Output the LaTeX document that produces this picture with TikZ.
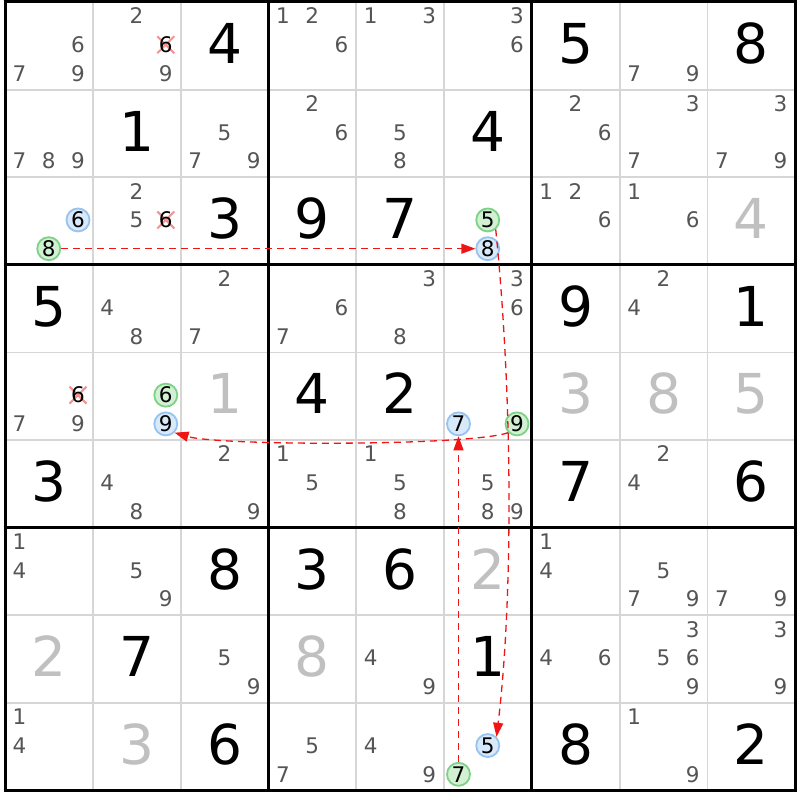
\documentclass[tikz,border=0pt]{standalone}
\usepackage{fontspec}
\setmainfont{DejaVu Sans}
\usetikzlibrary{arrows.meta}
\definecolor{candgray}{RGB}{85,85,85}
\definecolor{solvedgray}{RGB}{192,192,192}
\definecolor{thingrid}{RGB}{214,214,214}
\definecolor{gfill}{RGB}{210,240,210}
\definecolor{gdraw}{RGB}{125,210,135}
\definecolor{bfill}{RGB}{216,233,250}
\definecolor{bdraw}{RGB}{150,195,240}
\definecolor{xpink}{RGB}{245,145,145}
\definecolor{linkred}{RGB}{240,20,20}
\tikzset{
  candnode/.style={inner sep=0pt, font=\fontsize{21.5}{21.5}\selectfont, text=candgray, text height=15.6pt, text depth=0pt},
  hlg/.style={circle, fill=gfill, draw=gdraw, line width=1.8pt, minimum size=23pt, text=black},
  hlb/.style={circle, fill=bfill, draw=bdraw, line width=1.8pt, minimum size=23pt, text=black},
  elimnode/.style={text=black},
  givennode/.style={inner sep=0pt, font=\fontsize{55}{55}\selectfont, text height=40pt, text depth=0pt, text=black},
  solvednode/.style={givennode, text=solvedgray},
  xmark/.style={draw=xpink, line width=2pt},
  thinline/.style={draw=thingrid, line width=1.8pt},
  thickline/.style={draw=black, line width=3pt},
  link/.style={draw=linkred, line width=1.3pt, dash pattern=on 7pt off 5pt, -{Triangle[length=14pt,width=10pt]}}
}
\newcommand\Cand[4][]{\node[candnode,#1] (n#2#3#4) at ({5+(#3-1)*87.8+14.5+mod(#4-1,3)*29.25},{2+(#2-1)*87.6+14+floor((#4-1)/3)*28.75}) {#4};}
\newcommand\Cands[3]{\foreach \dd in {#3} {\Cand{#1}{#2}{\dd}}}
\newcommand\Elim[3]{\coordinate (x#1#2#3) at ({5+(#2-1)*87.8+14.5+mod(#3-1,3)*29.25},{2+(#1-1)*87.6+14+floor((#3-1)/3)*28.75});
  \draw[xmark] ([shift={(-8.5,-8.5)}]x#1#2#3) -- ([shift={(8.5,8.5)}]x#1#2#3);
  \draw[xmark] ([shift={(-8.5,8.5)}]x#1#2#3) -- ([shift={(8.5,-8.5)}]x#1#2#3);
  \Cand[elimnode]{#1}{#2}{#3}}
\newcommand\Given[3]{\node[givennode] (g#1#2) at ({5+(#2-0.5)*87.8},{2+(#1-1)*87.6+41.5}) {#3};}
\newcommand\Solved[3]{\node[solvednode] (g#1#2) at ({5+(#2-0.5)*87.8},{2+(#1-1)*87.6+41.5}) {#3};}
\begin{document}
\begin{tikzpicture}[x=1pt,y=-1pt]
\useasboundingbox[fill=white] (0,0) rectangle (800,800);
% thin grid
\foreach \i in {1,2,4,5,7,8} {
  \draw[thinline] ({5+\i*87.8},2) -- ({5+\i*87.8},790.4);
  \draw[thinline] (5,{2+\i*87.6}) -- (795.2,{2+\i*87.6});
}
\foreach \i in {0,3,6,9} {
  \draw[thickline] ({5+\i*87.8},0.5) -- ({5+\i*87.8},791.9);
  \draw[thickline] (3.5,{2+\i*87.6}) -- (796.7,{2+\i*87.6});
}
% row 1
\Cands{1}{1}{6,7,9} \Cands{1}{2}{2,9} \Elim{1}{2}{6} \Given{1}{3}{4}
\Cands{1}{4}{1,2,6} \Cands{1}{5}{1,3} \Cands{1}{6}{3,6}
\Given{1}{7}{5} \Cands{1}{8}{7,9} \Given{1}{9}{8}
% row 2
\Cands{2}{1}{7,8,9} \Given{2}{2}{1} \Cands{2}{3}{5,7,9}
\Cands{2}{4}{2,6} \Cands{2}{5}{5,8} \Given{2}{6}{4}
\Cands{2}{7}{2,6} \Cands{2}{8}{3,7} \Cands{2}{9}{3,7,9}
% row 3
\Cand[hlb]{3}{1}{6} \Cand[hlg]{3}{1}{8} \Cands{3}{2}{2,5} \Elim{3}{2}{6} \Given{3}{3}{3}
\Given{3}{4}{9} \Given{3}{5}{7} \Cand[hlg]{3}{6}{5} \Cand[hlb]{3}{6}{8}
\Cands{3}{7}{1,2,6} \Cands{3}{8}{1,6} \Solved{3}{9}{4}
% row 4
\Given{4}{1}{5} \Cands{4}{2}{4,8} \Cands{4}{3}{2,7}
\Cands{4}{4}{6,7} \Cands{4}{5}{3,8} \Cands{4}{6}{3,6}
\Given{4}{7}{9} \Cands{4}{8}{2,4} \Given{4}{9}{1}
% row 5
\Cands{5}{1}{7,9} \Elim{5}{1}{6} \Cand[hlg]{5}{2}{6} \Cand[hlb]{5}{2}{9} \Solved{5}{3}{1}
\Given{5}{4}{4} \Given{5}{5}{2} \Cand[hlb]{5}{6}{7} \Cand[hlg]{5}{6}{9}
\Solved{5}{7}{3} \Solved{5}{8}{8} \Solved{5}{9}{5}
% row 6
\Given{6}{1}{3} \Cands{6}{2}{4,8} \Cands{6}{3}{2,9}
\Cands{6}{4}{1,5} \Cands{6}{5}{1,5,8} \Cands{6}{6}{5,8,9}
\Given{6}{7}{7} \Cands{6}{8}{2,4} \Given{6}{9}{6}
% row 7
\Cands{7}{1}{1,4} \Cands{7}{2}{5,9} \Given{7}{3}{8}
\Given{7}{4}{3} \Given{7}{5}{6} \Solved{7}{6}{2}
\Cands{7}{7}{1,4} \Cands{7}{8}{5,7,9} \Cands{7}{9}{7,9}
% row 8
\Solved{8}{1}{2} \Given{8}{2}{7} \Cands{8}{3}{5,9}
\Solved{8}{4}{8} \Cands{8}{5}{4,9} \Given{8}{6}{1}
\Cands{8}{7}{4,6} \Cands{8}{8}{3,5,6,9} \Cands{8}{9}{3,9}
% row 9
\Cands{9}{1}{1,4} \Solved{9}{2}{3} \Given{9}{3}{6}
\Cands{9}{4}{5,7} \Cands{9}{5}{4,9} \Cand[hlb]{9}{6}{5} \Cand[hlg]{9}{6}{7}
\Given{9}{7}{8} \Cands{9}{8}{1,9} \Given{9}{9}{2}
% links
\draw[link] (n318.east) -- (n368.west);
\draw[link] (n365.-50) .. controls (513,400) and (513,600) .. (n965.45);
\draw[link] (n569.-135) .. controls (470,446) and (220,446) .. (n529.-45);
\draw[link] (n967.north) -- (n567.south);
\end{tikzpicture}
\end{document}
